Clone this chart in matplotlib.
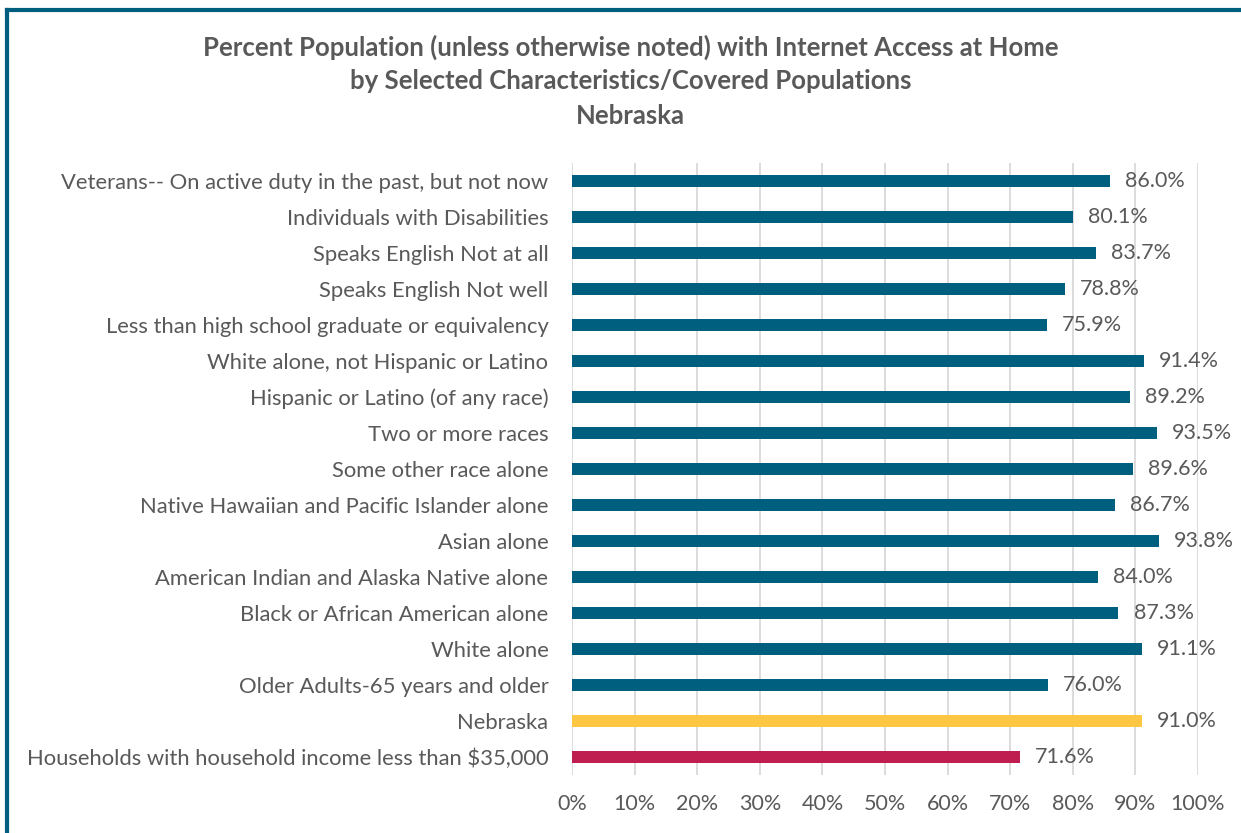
import matplotlib.pyplot as plt
from matplotlib.lines import Line2D

plt.rcParams['font.family'] = ['Lato', 'DejaVu Sans']

categories = [
    "Veterans-- On active duty in the past, but not now",
    "Individuals with Disabilities",
    "Speaks English Not at all",
    "Speaks English Not well",
    "Less than high school graduate or equivalency",
    "White alone, not Hispanic or Latino",
    "Hispanic or Latino (of any race)",
    "Two or more races",
    "Some other race alone",
    "Native Hawaiian and Pacific Islander alone",
    "Asian alone",
    "American Indian and Alaska Native alone",
    "Black or African American alone",
    "White alone",
    "Older Adults-65 years and older",
    "Nebraska",
    "Households with household income less than $35,000",
]
values = [86.0, 80.1, 83.7, 78.8, 75.9, 91.4, 89.2, 93.5, 89.6, 86.7,
          93.8, 84.0, 87.3, 91.1, 76.0, 91.0, 71.6]
bar_colors = ["#005F7F"] * 15 + ["#FDC743", "#BE1E50"]
tick_labels = [f"{t}%" for t in range(0, 101, 10)]

text_color = "#595959"

fig = plt.figure(figsize=(12.41, 8.33), dpi=100)
ax = fig.add_axes([572 / 1241, 1 - 775 / 833, (1198 - 572) / 1241, (775 - 163) / 833])

ypos = list(range(len(categories)))
ax.barh(ypos, values, height=0.36, color=bar_colors, zorder=3)
for y, v in zip(ypos, values):
    ax.text(v + 2.4, y, f"{v:.1f}%", va="center", ha="left", fontsize=15.5, color=text_color)

ax.set_ylim(len(categories) - 0.5, -0.5)
ax.set_xlim(0, 100)
ax.set_yticks(ypos)
ax.set_yticklabels(categories, fontsize=15.8, color=text_color)
ax.set_xticks(range(0, 101, 10))
ax.set_xticklabels(tick_labels, fontsize=15.5, color=text_color)
ax.tick_params(axis="both", length=0)
ax.tick_params(axis="y", pad=17)
ax.tick_params(axis="x", pad=14)
ax.grid(axis="x", color="#D9D9D9", linewidth=1.3, zorder=0)
for s in ax.spines.values():
    s.set_visible(False)

title_kw = dict(ha="center", va="center", fontsize=18.5, fontweight="bold", color=text_color)
fig.text(0.508, 1 - 47 / 833, "Percent Population (unless otherwise noted) with Internet Access at Home", **title_kw)
fig.text(0.508, 1 - 81 / 833, "by Selected Characteristics/Covered Populations", **title_kw)
fig.text(0.508, 1 - 116 / 833, "Nebraska", **title_kw)

# chart border (top and left edge visible)
fig.add_artist(Line2D([7 / 1241, 1], [1 - 10 / 833, 1 - 10 / 833], color="#005F7F", linewidth=3))
fig.add_artist(Line2D([7 / 1241, 7 / 1241], [0, 1 - 10 / 833], color="#005F7F", linewidth=3))

fig.savefig("out.png", dpi=100)
